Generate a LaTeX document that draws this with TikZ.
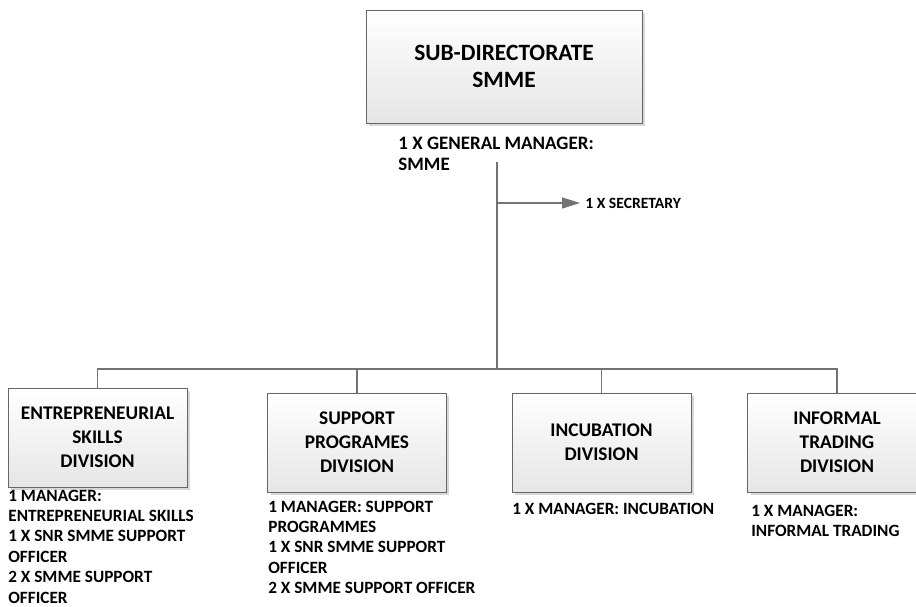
\documentclass[tikz,border=0pt]{standalone}
\usepackage{fontspec}
\setmainfont{Carlito}
\usetikzlibrary{arrows.meta,shadows}

\tikzset{
    orgbox/.style={draw=black!60, top color=white, bottom color=black!10,
        minimum width=3.58cm, minimum height=1.98cm, align=center, inner sep=2pt,
        font=\bfseries\fontsize{11}{13.7}\selectfont,
        drop shadow={shadow xshift=0.06cm, shadow yshift=-0.06cm, fill=black!30, opacity=0.5}},
    staff/.style={anchor=north west, align=left, inner sep=0pt,
        font=\bfseries\fontsize{9.8}{11.6}\selectfont},
    link/.style={draw=black!55, line width=0.8pt},
}

\begin{document}
\begin{tikzpicture}[x=0.02cm, y=-0.02cm]
    \useasboundingbox (0,0) rectangle (916,606);

    % head of the sub-directorate
    \node[orgbox, minimum width=5.52cm, minimum height=2.26cm,
        font=\bfseries\fontsize{13.3}{15.4}\selectfont] (head) at (504,66.5) {SUB-DIRECTORATE\\SMME};
    \node[staff, font=\bfseries\fontsize{10.8}{11.6}\selectfont] (gm) at (398,137) {1 X GENERAL MANAGER:\\SMME};

    \coordinate (trunk) at (497,162);
    \coordinate (secfork) at (497,203);
    \coordinate (bus) at (497,369);

    \node[anchor=west, inner sep=0pt, font=\bfseries\fontsize{8.9}{10}\selectfont] (sec) at (585,203) {1 X SECRETARY};
    \draw[link, -{Triangle[length=0.36cm, width=0.22cm]}] (secfork) -- ([xshift=-0.1cm]sec.west);

    % divisions
    \node[orgbox] (ent) at (97.5,437.5) {ENTREPRENEURIAL\\SKILLS\\DIVISION};
    \node[orgbox] (sup) at (357,442.5) {SUPPORT\\PROGRAMES\\DIVISION};
    \node[orgbox] (inc) at (601.5,442.5) {INCUBATION\\DIVISION};
    \node[orgbox] (inf) at (837,442.5) {INFORMAL\\TRADING\\DIVISION};

    \draw[link] (trunk) -- (bus);
    \foreach \d in {ent,sup,inc,inf}
        \draw[link] (bus) -| (\d.north);

    % staff under each division
    \node[staff] (entstaff) at (8,489.5) {1 MANAGER:\\ENTREPRENEURIAL SKILLS\\1 X SNR SMME SUPPORT\\OFFICER\\2 X SMME SUPPORT\\OFFICER};
    \node[staff] (supstaff) at (268,500.5) {1 MANAGER: SUPPORT\\PROGRAMMES\\1 X SNR SMME SUPPORT\\OFFICER\\2 X SMME SUPPORT OFFICER};
    \node[staff] (incstaff) at (512,502.5) {1 X MANAGER: INCUBATION};
    \node[staff] (infstaff) at (751,504.5) {1 X MANAGER:\\INFORMAL TRADING};
\end{tikzpicture}
\end{document}
